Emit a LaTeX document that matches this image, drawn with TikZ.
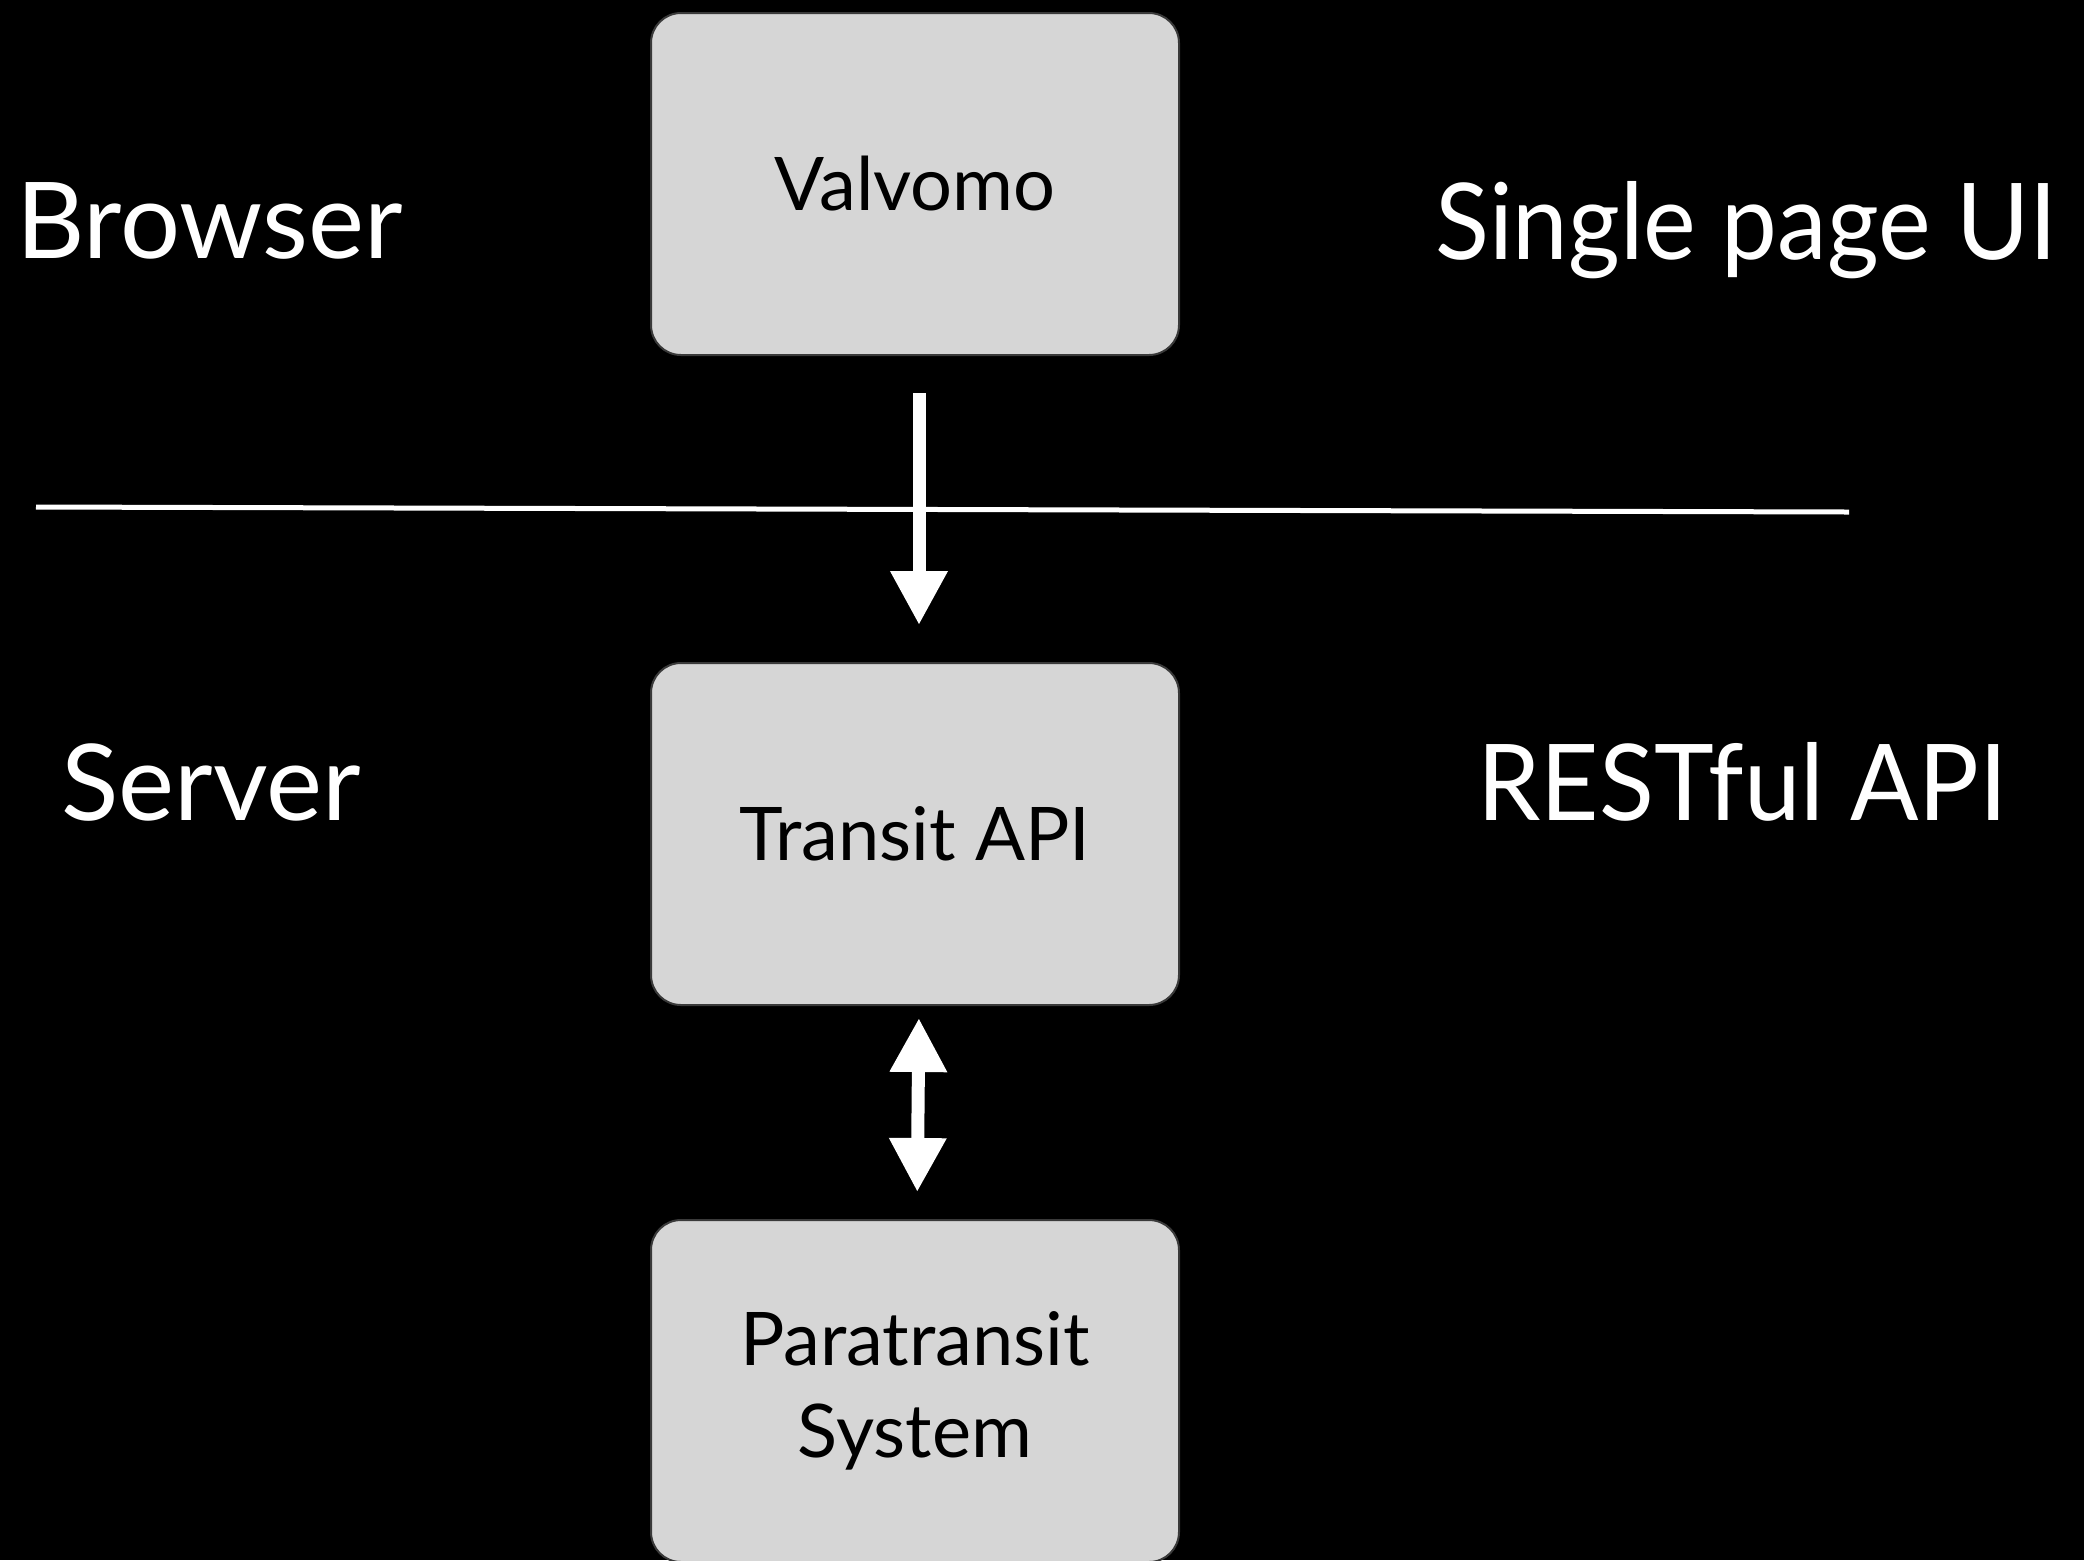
\documentclass[tikz,border=0pt]{standalone}
\usepackage{fontspec}
\setmainfont{Lato}
\usetikzlibrary{arrows.meta}
\definecolor{boxgray}{HTML}{D6D6D6}
\definecolor{edgegray}{HTML}{3A3A3A}
\tikzset{
  box/.style={fill=boxgray, draw=edgegray, line width=1pt, rounded corners=15pt,
    minimum width=264pt, minimum height=171pt, inner sep=0pt, align=center,
    text=black, font=\fontsize{37}{46}\selectfont},
  lbl/.style={anchor=base west, text=white, inner sep=0pt, font=\fontsize{53}{60}\selectfont},
  rlbl/.style={anchor=base east, text=white, inner sep=0pt, font=\fontsize{53}{60}\selectfont},
  bigarrow/.style={draw=white, line width=6.5pt, -{Triangle[width=27pt,length=27pt]}},
  bigdarrow/.style={draw=white, line width=6.5pt, {Triangle[width=27pt,length=27pt]}-{Triangle[width=27pt,length=27pt]}},
  divider/.style={draw=white, line width=2.5pt}
}
\begin{document}
\begin{tikzpicture}[x=0.5pt,y=-0.5pt]
\fill[black] (0,0) rectangle (2084,1560);
\useasboundingbox (0,0) rectangle (2084,1560);
\node[box] (val) at (915,184) {Valvomo};
\node[box] (tra) at (915,834) {Transit API};
\node[box] (par) at (915,1391) {Paratransit\\System};
\node[lbl] (browser) at (16,258) {Browser};
\node[rlbl] (spui) at (2058,259) {\scalebox{0.94}[1]{Single page UI}};
\node[lbl] (server) at (61,820) {Server};
\node[rlbl] (rest) at (2008,820) {\scalebox{0.955}[1]{RESTful API}};
\coordinate (l1) at (36,507);
\coordinate (l2) at (1849,512);
\draw[divider] (l1) -- (l2);
\draw[bigarrow, shorten <=18.5pt, shorten >=18.5pt] ([xshift=2pt]val.south) -- ([xshift=2pt]tra.north);
\draw[bigdarrow, shorten <=6pt, shorten >=13.5pt] ([xshift=2pt]tra.south) -- ([xshift=1pt]par.north);
\end{tikzpicture}
\end{document}
